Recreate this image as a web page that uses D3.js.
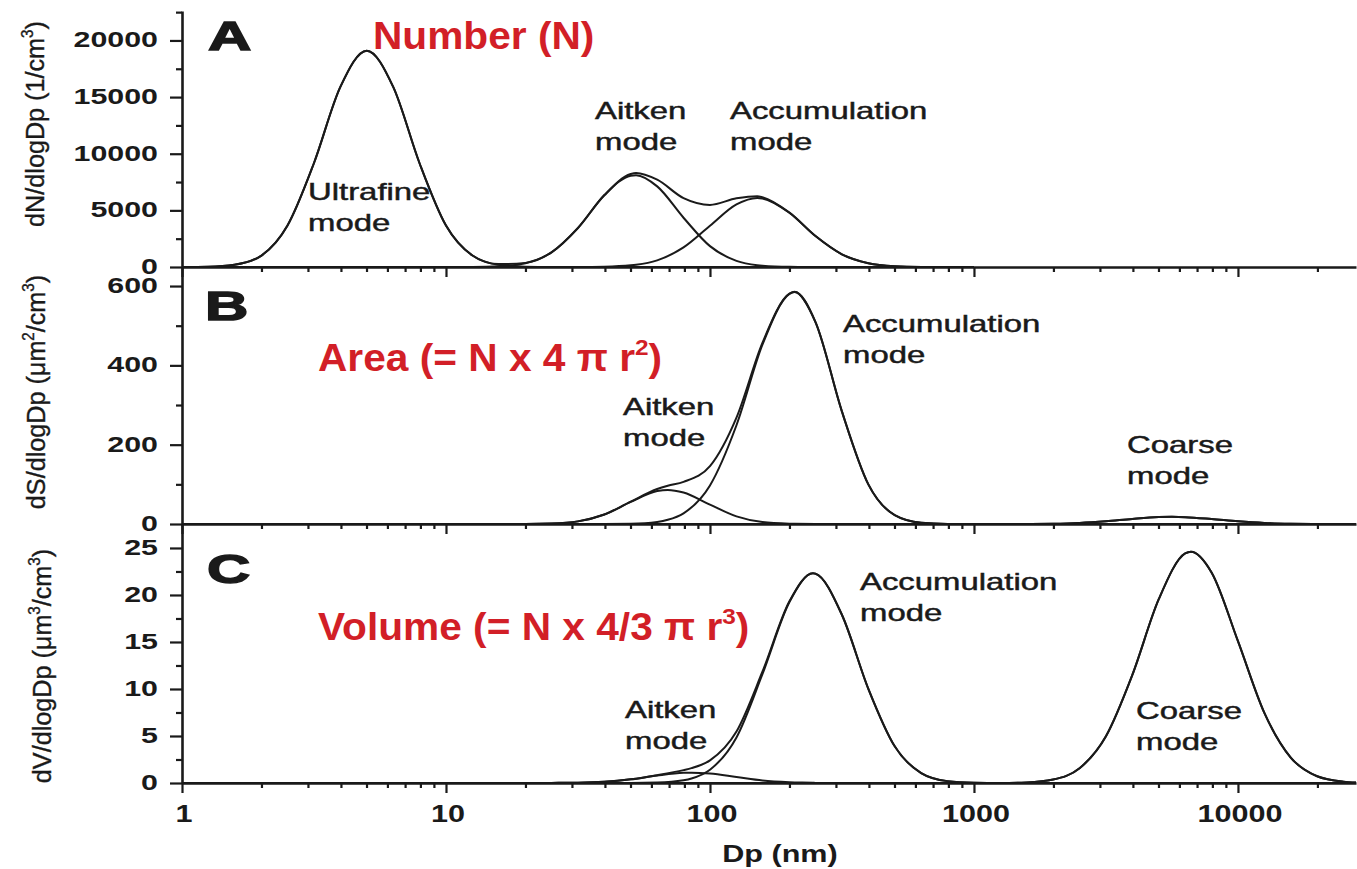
<!DOCTYPE html>
<html>
<head>
<meta charset="utf-8">
<script src="https://cdn.jsdelivr.net/npm/d3@7"></script>
<style>
body{margin:0;background:#fff;}
svg{display:block;font-family:"Liberation Sans",Arial,Helvetica,sans-serif;}
</style>
</head>
<body>
<svg id="chart" width="1357" height="869"></svg>
<script>
// ---- data (Dp in nm) ----
// panel A : number distribution
var dpA = [1, 1.26, 1.58, 2.0, 2.51, 3.16, 3.98, 5.01, 6.31, 7.94, 10, 12.6, 15.8, 20.0, 25.1, 31.6, 39.8, 50.1, 52.5, 63.1, 79.4, 100, 126, 151, 158, 200, 251, 316, 398, 501, 631, 794, 1000];
var ultrafineA = [2, 26, 194, 1010, 3660, 9160, 15900, 19100, 15900, 9160, 3660, 1010, 194, 26, 2, 0, 0, 0, 0, 0, 0, 0, 0, 0, 0, 0, 0, 0, 0, 0, 0, 0, 0];
var aitkenA = [0, 0, 0, 0, 0, 0, 0, 0, 0, 0, 1, 8, 61, 338, 1294, 3438, 6327, 8062, 8100, 7116, 4350, 1842, 540, 155, 110, 15, 2, 0, 0, 0, 0, 0, 0];
var accumA = [0, 0, 0, 0, 0, 0, 0, 0, 0, 0, 0, 0, 0, 0, 0, 3, 26, 146, 199, 589, 1727, 3637, 5524, 6100, 6052, 4784, 2729, 1122, 333, 71, 11, 1, 0];
var totalA = [2, 26, 194, 1010, 3660, 9160, 15900, 19100, 15900, 9160, 3661, 1018, 255, 364, 1296, 3441, 6353, 8208, 8299, 7705, 6077, 5479, 6064, 6255, 6162, 4799, 2731, 1122, 333, 71, 11, 1, 0];

// panel B : surface area distribution
var dpB = [1, 15.8, 20.0, 25.1, 31.6, 39.8, 50.1, 63.1, 69.2, 79.4, 100, 126, 158, 200, 209, 251, 316, 398, 501, 631, 794, 1000, 1259, 1585, 1995, 2512, 3162, 3981, 5012, 5623, 6310, 7943, 10000, 12589, 15849, 19953, 25119, 28000];
var aitkenB = [0, 0, 0.1, 1.2, 6.6, 23.9, 55.6, 83.0, 86, 79.4, 48.7, 19.2, 4.8, 0.8, 0.5, 0.1, 0, 0, 0, 0, 0, 0, 0, 0, 0, 0, 0, 0, 0, 0, 0, 0, 0, 0, 0, 0, 0, 0];
var accumB = [0, 0, 0, 0, 0, 0.1, 0.7, 5.2, 10.5, 26.9, 97.3, 249, 452, 580, 585, 509, 284, 100, 22.4, 3.2, 0.3, 0, 0, 0, 0, 0, 0, 0, 0, 0, 0, 0, 0, 0, 0, 0, 0, 0];
var coarseB = [0, 0, 0, 0, 0, 0, 0, 0, 0, 0, 0, 0, 0, 0, 0, 0, 0, 0, 0, 0, 0, 0, 0, 0.2, 0.8, 2.8, 7.0, 12.9, 17.4, 18, 17.2, 12.5, 6.7, 2.6, 0.8, 0.2, 0, 0];
var totalB = [0, 0, 0.1, 1.2, 6.6, 24.0, 56.3, 88.2, 96.5, 106.3, 146.0, 268.2, 456.8, 580.8, 585.5, 509.1, 284, 100, 22.4, 3.2, 0.3, 0, 0, 0.2, 0.8, 2.8, 7.0, 12.9, 17.4, 18, 17.2, 12.5, 6.7, 2.6, 0.8, 0.2, 0, 0];

// panel C : volume distribution
var dpC = [1, 20.0, 25.1, 31.6, 39.8, 50.1, 63.1, 79.4, 85.1, 100, 126, 158, 200, 245.5, 251, 316, 398, 501, 631, 794, 1000, 1259, 1585, 1995, 2512, 3162, 3981, 5012, 6310, 6637, 7943, 10000, 12589, 15849, 19953, 25119, 28000];
var aitkenC = [0, 0, 0.01, 0.03, 0.13, 0.39, 0.79, 1.08, 1.1, 1.0, 0.63, 0.26, 0.08, 0.02, 0.01, 0, 0, 0, 0, 0, 0, 0, 0, 0, 0, 0, 0, 0, 0, 0, 0, 0, 0, 0, 0, 0, 0];
var accumC = [0, 0, 0, 0, 0, 0, 0.04, 0.29, 0.48, 1.41, 4.85, 11.58, 19.25, 22.3, 22.26, 17.9, 10.02, 3.9, 1.06, 0.2, 0.03, 0, 0, 0, 0, 0, 0, 0, 0, 0, 0, 0, 0, 0, 0, 0, 0];
var coarseC = [0, 0, 0, 0, 0, 0, 0, 0, 0, 0, 0, 0, 0, 0, 0, 0, 0, 0, 0, 0, 0, 0, 0.06, 0.37, 1.57, 4.97, 11.5, 19.55, 24.42, 24.6, 22.4, 15.09, 7.46, 2.71, 0.72, 0.14, 0.05];
var totalC = [0, 0, 0.01, 0.03, 0.13, 0.39, 0.83, 1.37, 1.58, 2.41, 5.48, 11.84, 19.33, 22.32, 22.27, 17.9, 10.02, 3.9, 1.06, 0.2, 0.03, 0, 0.06, 0.37, 1.57, 4.97, 11.5, 19.55, 24.42, 24.6, 22.4, 15.09, 7.46, 2.71, 0.72, 0.14, 0.05];

// ticks and labels
var xMajor = [1, 10, 100, 1000, 10000];
var xMajorLabels = ["1", "10", "100", "1000", "10000"];
var xMinor = [2,3,4,5,6,7,8,9, 20,30,40,50,60,70,80,90, 200,300,400,500,600,700,800,900, 2000,3000,4000,5000,6000,7000,8000,9000, 20000];
var yTicksA = [0, 5000, 10000, 15000, 20000];
var yMinorA = [2500, 7500, 12500, 17500, 22500];
var yTicksB = [0, 200, 400, 600];
var yMinorB = [100, 300, 500];
var yTicksC = [0, 5, 10, 15, 20, 25];
var yMinorC = [2.5, 7.5, 12.5, 17.5, 22.5];
var modeNamesA = ["Ultrafine", "Aitken", "Accumulation"];
var modeNamesB = ["Aitken", "Accumulation", "Coarse"];
var modeNamesC = ["Aitken", "Accumulation", "Coarse"];
var xTitle = "Dp (nm)";

var svg = d3.select("#chart");
var x = d3.scaleLog().domain([1, 28000]).range([182, 1356]);
var ink = "#1a1a1a";
var red = "#d21f27";

// text helper: parts with optional superscript
function richText(g, transform, parts, size, weight, color, anchor){
	var t = g.append("text")
		.attr("transform", transform)
		.attr("text-anchor", anchor || "start")
		.attr("fill", color || ink)
		.style("font-size", size + "px")
		.style("font-weight", weight || "normal");
	var up = false;
	parts.forEach(function(p){
		var ts = t.append("tspan").text(p.t);
		if(p.sup){
			ts.attr("dy", -size*0.42).style("font-size", (size*0.6) + "px");
			up = true;
		} else if(up){
			ts.attr("dy", size*0.42);
			up = false;
		}
	});
	return t;
}
function label(g, px, py, txt, size, weight, sx, anchor){
	return richText(g, "translate(" + px + "," + py + ") scale(" + sx + ",1)", [{t:txt}], size, weight, ink, anchor);
}

var panels = [
	{dp: dpA, comps: [ultrafineA, aitkenA, accumA], total: totalA,
	 y: d3.scaleLinear().domain([0, 22600]).range([267, 11]),
	 ticks: yTicksA, minor: yMinorA, names: modeNamesA,
	 namePos: [[308,200],[595,119],[730,119]],
	 letter: "A", letterPos: [208,50],
	 title: [{t:"Number (N)"}], titlePos: [373,49],
	 yTitle: [{t:"dN/dlogDp (1/cm"},{t:"3",sup:true},{t:")"}], yTitlePos: [44,124]},
	{dp: dpB, comps: [aitkenB, accumB, coarseB], total: totalB,
	 y: d3.scaleLinear().domain([0, 648]).range([524, 267]),
	 ticks: yTicksB, minor: yMinorB, names: modeNamesB,
	 namePos: [[623,415],[843,332],[1127,453]],
	 letter: "B", letterPos: [205,320],
	 title: [{t:"Area (= N x 4 \u03c0 r"},{t:"2",sup:true},{t:")"}], titlePos: [318,371],
	 yTitle: [{t:"dS/dlogDp (\u03bcm"},{t:"2",sup:true},{t:"/cm"},{t:"3",sup:true},{t:")"}], yTitlePos: [45,392]},
	{dp: dpC, comps: [aitkenC, accumC, coarseC], total: totalC,
	 y: d3.scaleLinear().domain([0, 27.55]).range([783, 524]),
	 ticks: yTicksC, minor: yMinorC, names: modeNamesC,
	 namePos: [[625,718],[860,590],[1136,719]],
	 letter: "C", letterPos: [207,583],
	 title: [{t:"Volume (= N x 4/3 \u03c0 r"},{t:"3",sup:true},{t:")"}], titlePos: [318,640],
	 yTitle: [{t:"dV/dlogDp (\u03bcm"},{t:"3",sup:true},{t:"/cm"},{t:"3",sup:true},{t:")"}], yTitlePos: [51,666]}
];

panels.forEach(function(p, pi){
	var g = svg.append("g");
	var y = p.y;
	var y0 = y.range()[0];
	var line = d3.line()
		.x(function(d, i){ return x(p.dp[i]); })
		.y(function(d){ return y(d); })
		.curve(d3.curveMonotoneX);

	// curves
	p.comps.concat([p.total]).forEach(function(s){
		g.append("path").datum(s)
			.attr("d", line)
			.attr("fill", "none")
			.attr("stroke", ink)
			.attr("stroke-width", 2)
			.attr("stroke-linejoin", "round");
	});

	// x axis (ticks pointing down)
	var xa = g.append("g").attr("transform", "translate(0," + y0 + ")");
	xa.call(d3.axisBottom(x).tickValues(xMajor).tickSize(10).tickSizeOuter(0).tickFormat(""));
	var xm = g.append("g").attr("transform", "translate(0," + y0 + ")");
	xm.call(d3.axisBottom(x).tickValues(xMinor).tickSize(5).tickSizeOuter(0).tickFormat(""));
	xm.select(".domain").remove();

	// y axis
	var ya = g.append("g").attr("transform", "translate(182,0)");
	ya.call(d3.axisLeft(y).tickValues(p.ticks).tickSize(12).tickSizeOuter(0).tickFormat(""));
	var ym = g.append("g").attr("transform", "translate(182,0)");
	ym.call(d3.axisLeft(y).tickValues(p.minor).tickSize(6).tickSizeOuter(0).tickFormat(""));
	ym.select(".domain").remove();

	g.selectAll(".domain").attr("stroke", ink).attr("stroke-width", 2.6);
	g.selectAll(".tick line").attr("stroke", ink).attr("stroke-width", 2.2);

	// y tick labels
	p.ticks.forEach(function(v){
		label(g, 158, y(v) + 7, String(v), 22, "bold", 1.38, "end");
	});

	// mode labels
	p.names.forEach(function(n, i){
		var pos = p.namePos[i];
		label(g, pos[0], pos[1], n, 23, "normal", 1.43, "start")
			.attr("stroke", ink).attr("stroke-width", 0.45);
		label(g, pos[0], pos[1] + 31, "mode", 23, "normal", 1.43, "start")
			.attr("stroke", ink).attr("stroke-width", 0.45);
	});

	// panel letter
	label(g, p.letterPos[0], p.letterPos[1], p.letter, 40, "bold", 1.5, "start")
		.attr("stroke", ink).attr("stroke-width", 1.4);

	// red title
	richText(g, "translate(" + p.titlePos[0] + "," + p.titlePos[1] + ") scale(1.07,1)", p.title, 38, "bold", red, "start");

	// y axis title
	richText(g, "translate(" + p.yTitlePos[0] + "," + p.yTitlePos[1] + ") rotate(-90) scale(1.2,1.25)", p.yTitle, 21, "normal", ink, "middle")
		.attr("stroke", ink).attr("stroke-width", 0.3);

	// x tick labels on the bottom panel
	if(pi == panels.length - 1){
		xMajor.forEach(function(v, i){
			label(g, x(v) + 2, 822, xMajorLabels[i], 23, "bold", 1.33, "middle");
		});
		label(g, 780, 862, xTitle, 23, "bold", 1.33, "middle");
	}
});
</script>
</body>
</html>
